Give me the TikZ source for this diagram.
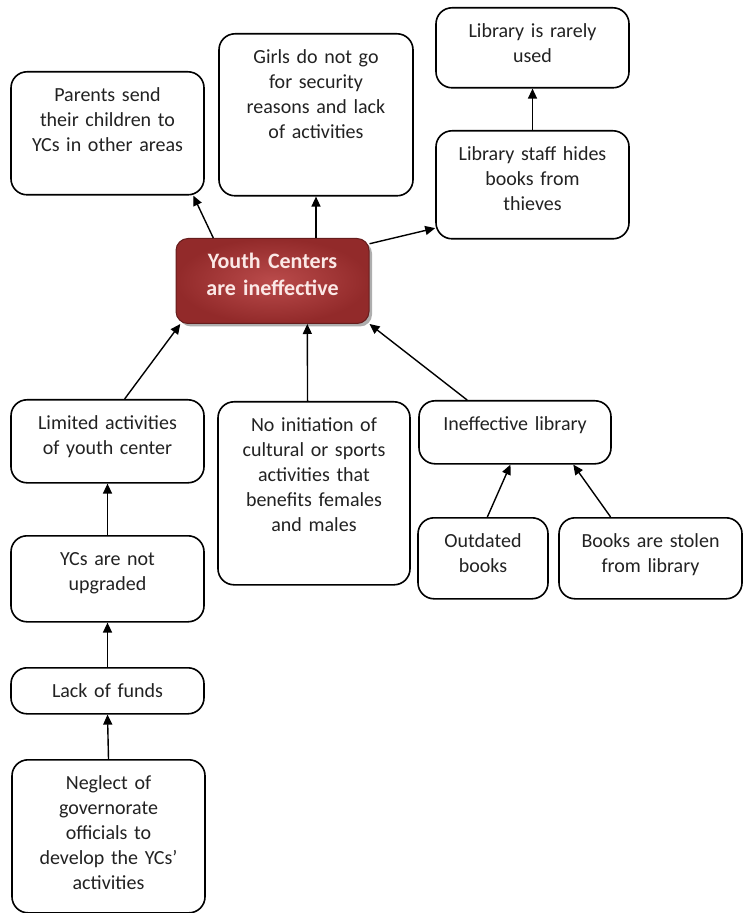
\documentclass[tikz,border=0pt]{standalone}
\usepackage{fontspec}
\setmainfont{Carlito}
\usepackage{xcolor}
\usepackage{tikz}
\usetikzlibrary{arrows.meta, shapes, shadows}
\definecolor{C_TEXT}    {HTML}{222222}
\definecolor{C_CORE_IN} {HTML}{BA4B4B}
\definecolor{C_CORE_OUT}{HTML}{922A2A}
\definecolor{C_CORE_TXT}{HTML}{FBE8E6}
\newcommand{\ycfont}{\fontsize{10}{12.5}\selectfont}
\newcommand{\ycbold}{\fontsize{11}{13.5}\selectfont\bfseries}
\tikzset{
  %% -- problem box (text hangs from the top edge) --
  yc/box/.style 2 args={
    draw=black, line width=0.8pt, rounded corners=8pt, fill=white,
    anchor=north, minimum width=#1, text width=#1, minimum height=#2,
    inner xsep=0pt, inner ysep=4pt, text height=11pt, text depth=#2-19pt,
    align=center, font=\ycfont, text=C_TEXT
  },
  %% -- core problem --
  yc/core/.style 2 args={
    yc/box={#1}{#2}, draw=C_CORE_OUT!70!black, line width=0.5pt,
    rounded corners=6pt, inner color=C_CORE_IN, outer color=C_CORE_OUT,
    font=\ycbold, text=C_CORE_TXT,
    drop shadow={shadow xshift=1.5pt, shadow yshift=-1.5pt,
      fill=black!70, opacity=0.45}
  },
  %% -- cause / effect arrow --
  yc/arr/.style={-{Triangle[length=5pt, width=4.5pt]}, line width=0.7pt},
}
\begin{document}
\begin{tikzpicture}[x=0.5pt, y=-0.5pt]
\useasboundingbox (0,0) rectangle (743,913);

%% Core problem
\node[yc/core={96.5pt}{42.5pt}] (core) at (272.5,238)
  {Youth Centers\\are ineffective};

%% Effects
\node[yc/box={96.5pt}{61.5pt}] (parents) at (107.5,71)
  {Parents send\\their children to\\YCs in other areas};
\node[yc/box={97pt}{81pt}] (girls) at (316,33)
  {Girls do not go\\for security\\reasons and lack\\of activities};
\node[yc/box={96.5pt}{54pt}] (staff) at (532.5,130)
  {Library staff hides\\books from\\thieves};
\node[yc/box={96.5pt}{40pt}] (rare) at (532.5,7)
  {Library is rarely\\used};

%% Causes
\node[yc/box={96.5pt}{41.5pt}] (limited) at (107.5,399)
  {Limited activities\\of youth center};
\node[yc/box={96.5pt}{43pt}] (upgraded) at (107.5,535)
  {YCs are not\\upgraded};
\node[yc/box={96.5pt}{23pt}] (funds) at (107.5,667)
  {Lack of funds};
\node[yc/box={96.5pt}{76.5pt}] (neglect) at (108.5,759)
  {Neglect of\\governorate\\officials to\\develop the YCs'\\activities};
\node[yc/box={96pt}{91.5pt}] (initiation) at (314,401)
  {No initiation of\\cultural or sports\\activities that\\benefits females\\and males};
\node[yc/box={96pt}{31.5pt}] (inefflib) at (515,400)
  {Ineffective library};
\node[yc/box={65pt}{40.5pt}] (outdated) at (483,517)
  {Outdated\\books};
\node[yc/box={91.5pt}{40.5pt}] (stolen) at (650.5,517)
  {Books are stolen\\from library};

%% Core -> effects
\draw[yc/arr] (core.144.5) -- (parents.-36);
\draw[yc/arr] (girls.south |- core.north) -- (girls.south);
\draw[yc/arr] (core.21) -- (staff.204);
\draw[yc/arr] (staff.north) -- (rare.south);

%% Causes -> core
\draw[yc/arr] (limited.68) -- (core.205);
\draw[yc/arr] (initiation.94.4) -- (core.309);
\draw[yc/arr] (inefflib.146.7) -- (core.south east);
\draw[yc/arr] (upgraded.north) -- (limited.south);
\draw[yc/arr] (funds.north) -- (upgraded.south);
\draw[yc/arr] (neglect.north) -- (funds.south);
\draw[yc/arr] (outdated.84.4) -- (inefflib.262);
\draw[yc/arr] (stolen.134.3) -- (inefflib.331);
\end{tikzpicture}
\end{document}
